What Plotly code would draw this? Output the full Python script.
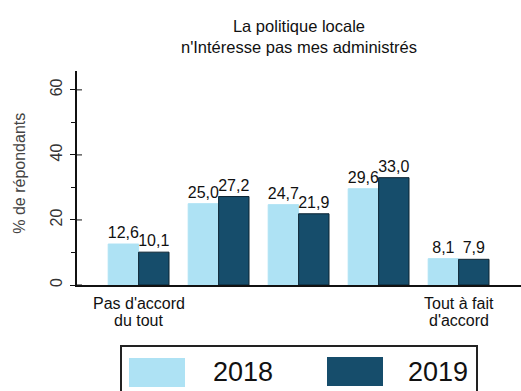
import plotly.graph_objects as go

# Survey answers on a 5-point agreement scale, share of respondents (%)
categories = ["1", "2", "3", "4", "5"]
values_2018 = [12.6, 25.0, 24.7, 29.6, 8.1]
values_2019 = [10.1, 27.2, 21.9, 33.0, 7.9]
years = ["2018", "2019"]
scale_ends = [("Pas d'accord", "du tout"), ("Tout à fait", "d'accord")]
y_ticks = [0, 20, 40, 60]

LIGHT = "#aee2f4"
DARK = "#164d6b"
FONT = "Liberation Sans, Arial, sans-serif"


def fr(v):
    return f"{v:.1f}".replace(".", ",")


fig = go.Figure()
for name, vals, color, edge in [
    (years[0], values_2018, LIGHT, LIGHT),
    (years[1], values_2019, DARK, "#0b2433"),
]:
    fig.add_trace(go.Bar(
        x=categories, y=vals, name=name,
        marker=dict(color=color, line=dict(color=edge, width=1)),
        text=[fr(v) for v in vals],
        textposition="outside",
        textfont=dict(size=16, color="#111", family=FONT),
        constraintext="none",
        cliponaxis=False,
        showlegend=False,
    ))


def px_x(p):
    return (p - 77) / 444


def px_y(p):
    return (285 - p) / 214


# Legend drawn as a framed box with large colour swatches
shapes = [
    dict(type="rect", xref="paper", yref="paper",
         x0=px_x(121), x1=px_x(477), y0=px_y(346), y1=px_y(400),
         line=dict(color="#222", width=2), fillcolor="rgba(0,0,0,0)"),
    dict(type="rect", xref="paper", yref="paper",
         x0=px_x(129), x1=px_x(185), y0=px_y(358), y1=px_y(387),
         line=dict(width=0), fillcolor=LIGHT),
    dict(type="rect", xref="paper", yref="paper",
         x0=px_x(327), x1=px_x(383), y0=px_y(357), y1=px_y(386),
         line=dict(width=0), fillcolor=DARK),
]
# inner half of the major ticks, so they cross the y axis line
for t in y_ticks:
    shapes.append(dict(type="line", xref="paper", yref="y",
                       x0=0, x1=px_x(82), y0=t, y1=t,
                       line=dict(color="#111", width=1)))

annotations = [
    dict(text=years[0], xref="paper", yref="paper", x=px_x(243), y=px_y(372),
         xanchor="center", yanchor="middle", showarrow=False,
         font=dict(size=27, color="#111", family=FONT)),
    dict(text=years[1], xref="paper", yref="paper", x=px_x(438), y=px_y(372),
         xanchor="center", yanchor="middle", showarrow=False,
         font=dict(size=27, color="#111", family=FONT)),
    dict(text="% de répondants", xref="paper", yref="paper", x=px_x(20), y=0.52,
         xanchor="center", yanchor="middle", textangle=-90, showarrow=False,
         font=dict(size=16, color="#444", family=FONT)),
]

# Scale-end labels under the first and last category, two tight lines each
for idx, (line1, line2) in zip([0, len(categories) - 1], scale_ends):
    for text, ypx in ((line1, 303), (line2, 320)):
        annotations.append(dict(
            text=text, xref="x", yref="paper", x=idx, y=px_y(ypx),
            xanchor="center", yanchor="middle", showarrow=False,
            font=dict(size=16, color="#111", family=FONT)))

fig.update_layout(
    width=521, height=391,
    margin=dict(l=77, r=0, t=71, b=106),
    paper_bgcolor="white", plot_bgcolor="white",
    barmode="group", bargap=0.24, bargroupgap=0,
    font=dict(family=FONT, color="#111"),
    title=dict(
        text="La politique locale<br>n'Intéresse pas mes administrés",
        x=0.5, xref="paper", xanchor="center",
        y=1 - 32 / 391, yref="container", yanchor="middle",
        font=dict(size=16.5, color="#111", family=FONT),
    ),
    xaxis=dict(
        range=[-0.77, 4.78],
        showticklabels=False,
        ticks="", showgrid=False, zeroline=False,
        showline=True, linecolor="#111", linewidth=2,
    ),
    yaxis=dict(
        range=[0, 65.8], tickvals=y_ticks, tickangle=-90,
        ticks="outside", ticklen=5, tickwidth=1, tickcolor="#111",
        minor=dict(dtick=10, ticks="outside", ticklen=4, tickcolor="#111"),
        showgrid=False, zeroline=False,
        showline=True, linecolor="#111", linewidth=2,
        ticklabelstandoff=2,
        tickfont=dict(size=16, color="#333", family=FONT),
    ),
    shapes=shapes,
    annotations=annotations,
)

fig.write_html("out.html")
